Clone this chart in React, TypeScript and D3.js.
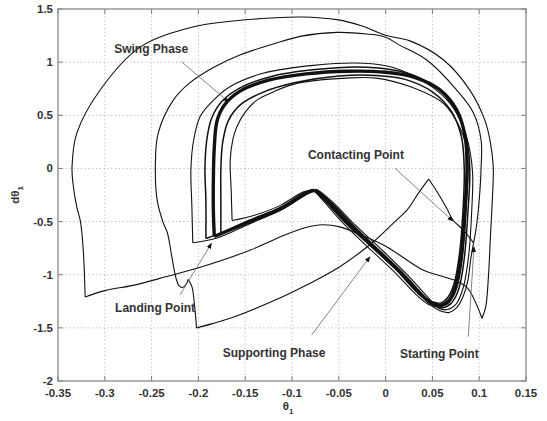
import React, { useRef, useEffect } from "react";
import * as d3 from "d3";

type Pt = [number, number];

// axis ticks
const xTicks = [-0.35, -0.3, -0.25, -0.2, -0.15, -0.1, -0.05, 0, 0.05, 0.1, 0.15];
const xTickLabels = ["-0.35", "-0.3", "-0.25", "-0.2", "-0.15", "-0.1", "-0.05", "0", "0.05", "0.1", "0.15"];
const yTicks = [-2, -1.5, -1, -0.5, 0, 0.5, 1, 1.5];
const yTickLabels = ["-2", "-1.5", "-1", "-0.5", "0", "0.5", "1", "1.5"];

// outermost trajectory (A)
const aSwing: Pt[] = [
  [0.103, -1.41], [0.107, -1.3], [0.110, -1.0], [0.112, -0.64], [0.114, -0.3], [0.115, 0.016],
  [0.1115, 0.267], [0.106, 0.455], [0.090, 0.737], [0.062, 1.02], [0.026, 1.2], [0.001, 1.25],
  [-0.025, 1.34], [-0.052, 1.4], [-0.09, 1.425], [-0.123, 1.415], [-0.16, 1.39], [-0.206, 1.33],
  [-0.262, 1.144], [-0.305, 0.738], [-0.33, 0.33], [-0.335, 0.016], [-0.334, -0.14],
  [-0.33, -0.36], [-0.326, -0.5], [-0.323, -0.77], [-0.321, -1.21],
];
const aSupport: Pt[] = [
  [-0.321, -1.21], [-0.3, -1.15], [-0.27, -1.1], [-0.235, -1.02], [-0.198, -0.93], [-0.145, -0.77],
  [-0.109, -0.63], [-0.085, -0.555], [-0.067, -0.53], [-0.049, -0.55], [-0.025, -0.63],
  [0.001, -0.736], [0.04, -0.956], [0.062, -1.02], [0.076, -1.06], [0.088, -1.13], [0.095, -1.24],
  [0.1, -1.34], [0.103, -1.41],
];

// second trajectory (B)
const bSwing: Pt[] = [
  [-0.211, -1.045], [-0.213, -1.09], [-0.217, -1.12], [-0.221, -1.1], [-0.224, -1.03],
  [-0.226, -0.95], [-0.229, -0.8], [-0.233, -0.61], [-0.238, -0.5], [-0.244, -0.3],
  [-0.246, 0.016], [-0.243, 0.33], [-0.227, 0.64], [-0.21, 0.8], [-0.184, 0.95], [-0.155, 1.07],
  [-0.12, 1.17], [-0.09, 1.245], [-0.052, 1.28], [-0.02, 1.265], [0.0, 1.235], [0.015, 1.16],
  [0.044, 1.02], [0.076, 0.737], [0.094, 0.52], [0.102, 0.267], [0.102, 0.0], [0.1, -0.3],
  [0.097, -0.55], [0.094, -0.7],
];
const bDrop: Pt[] = [[-0.211, -1.045], [-0.207, -1.11], [-0.204, -1.3], [-0.202, -1.5]];
const bSupport: Pt[] = [
  [-0.202, -1.5], [-0.185, -1.46], [-0.163, -1.4], [-0.113, -1.22], [-0.085, -1.1],
  [-0.049, -0.925], [-0.013, -0.69], [0.01, -0.5], [0.023, -0.39], [0.036, -0.22], [0.046, -0.1],
];
const bPeakDown: Pt[] = [
  [0.046, -0.1], [0.055, -0.22], [0.065, -0.37], [0.072, -0.485], [0.083, -0.58], [0.094, -0.7],
];
const bReturn: Pt[] = [
  [0.094, -0.7], [0.091, -0.85], [0.088, -1.05], [0.083, -1.2], [0.076, -1.31], [0.068, -1.355],
  [0.058, -1.34], [0.046, -1.27], [0.027, -1.07], [0.003, -0.86], [-0.027, -0.6], [-0.053, -0.37],
  [-0.069, -0.25], [-0.075, -0.22],
];

// limit cycle (thick band)
const lcSwing: Pt[] = [
  [-0.183, -0.64], [-0.184, -0.4], [-0.184, -0.1], [-0.183, 0.2], [-0.18, 0.45], [-0.172, 0.6],
  [-0.155, 0.73], [-0.125, 0.83], [-0.085, 0.89], [-0.04, 0.915], [0.0, 0.905], [0.03, 0.86],
  [0.058, 0.74], [0.076, 0.55], [0.085, 0.3], [0.087, 0.0], [0.085, -0.35], [0.081, -0.8],
  [0.075, -1.1], [0.068, -1.24], [0.06, -1.285], [0.05, -1.27], [0.038, -1.19], [0.015, -0.97],
  [-0.013, -0.74], [-0.04, -0.52], [-0.06, -0.33], [-0.072, -0.23], [-0.076, -0.205],
];
const lcDown: Pt[] = [[-0.076, -0.205], [-0.085, -0.235], [-0.11, -0.37], [-0.145, -0.5], [-0.183, -0.64]];

// neighbouring cycles
const c1Swing: Pt[] = [
  [-0.206, -0.7], [-0.207, -0.35], [-0.208, 0.0], [-0.205, 0.27], [-0.198, 0.49], [-0.184, 0.64],
  [-0.166, 0.77], [-0.131, 0.895], [-0.077, 0.97], [-0.024, 0.99], [0.008, 0.95], [0.044, 0.8],
  [0.069, 0.61], [0.083, 0.39], [0.09, 0.17], [0.093, -0.05], [0.092, -0.4], [0.089, -0.8],
  [0.083, -1.12], [0.075, -1.28], [0.065, -1.33], [0.056, -1.31], [0.046, -1.22], [0.022, -0.99],
  [-0.006, -0.75], [-0.034, -0.52], [-0.055, -0.33], [-0.068, -0.23], [-0.073, -0.2],
];
const c1Down: Pt[] = [[-0.073, -0.2], [-0.084, -0.24], [-0.11, -0.385], [-0.145, -0.52], [-0.18, -0.655], [-0.206, -0.7]];

const c2Swing: Pt[] = [
  [-0.192, -0.66], [-0.192, -0.3], [-0.193, 0.0], [-0.191, 0.27], [-0.186, 0.47], [-0.175, 0.63],
  [-0.155, 0.76], [-0.12, 0.87], [-0.075, 0.93], [-0.03, 0.955], [0.005, 0.93], [0.037, 0.85],
  [0.064, 0.68], [0.08, 0.45], [0.088, 0.2], [0.09, -0.05], [0.088, -0.4], [0.084, -0.85],
  [0.078, -1.14], [0.07, -1.27], [0.061, -1.31], [0.052, -1.29], [0.042, -1.21], [0.018, -0.98],
  [-0.01, -0.745], [-0.037, -0.52], [-0.057, -0.33], [-0.07, -0.225], [-0.074, -0.2],
];
const c2Down: Pt[] = [[-0.074, -0.2], [-0.085, -0.24], [-0.11, -0.375], [-0.145, -0.505], [-0.192, -0.66]];

const c3Swing: Pt[] = [
  [-0.176, -0.61], [-0.176, -0.3], [-0.176, 0.0], [-0.174, 0.25], [-0.168, 0.45], [-0.155, 0.6],
  [-0.13, 0.72], [-0.095, 0.81], [-0.05, 0.87], [-0.01, 0.875], [0.02, 0.84], [0.05, 0.72],
  [0.07, 0.54], [0.081, 0.3], [0.084, 0.0], [0.083, -0.35], [0.079, -0.8], [0.073, -1.09],
  [0.066, -1.22], [0.059, -1.265], [0.048, -1.25], [0.035, -1.175], [0.012, -0.96],
  [-0.016, -0.73], [-0.043, -0.51], [-0.063, -0.32], [-0.074, -0.22], [-0.078, -0.2],
];
const c3Down: Pt[] = [[-0.078, -0.2], [-0.088, -0.23], [-0.112, -0.365], [-0.145, -0.485], [-0.176, -0.61]];

const c4Swing: Pt[] = [
  [-0.164, -0.49], [-0.165, -0.2], [-0.166, 0.08], [-0.163, 0.28], [-0.159, 0.39], [-0.15, 0.53],
  [-0.138, 0.64], [-0.12, 0.72], [-0.095, 0.8], [-0.042, 0.85], [-0.01, 0.85], [0.026, 0.77],
  [0.062, 0.61], [0.079, 0.39], [0.087, 0.17], [0.088, -0.05], [0.086, -0.4], [0.082, -0.85],
  [0.076, -1.13], [0.068, -1.26], [0.058, -1.3], [0.046, -1.28], [0.033, -1.19], [0.009, -0.97],
  [-0.019, -0.74], [-0.046, -0.51], [-0.065, -0.32], [-0.076, -0.215], [-0.079, -0.2],
];
const c4Down: Pt[] = [[-0.079, -0.2], [-0.089, -0.225], [-0.113, -0.35], [-0.14, -0.44], [-0.164, -0.49]];

// annotations (data coordinates)
const noteTexts = ["Swing Phase", "Contacting Point", "Starting Point", "Landing Point", "Supporting Phase"];
const noteAt: Pt[] = [[-0.29, 1.086], [-0.083, 0.088], [0.0154, -1.784], [-0.289, -1.351], [-0.174, -1.774]];
const arrowFrom: Pt[] = [[-0.218, 1.004], [0.01, 0.001], [0.0884, -1.583], [-0.2197, -1.191], [-0.079, -1.567]];
const arrowTo: Pt[] = [[-0.168, 0.627], [0.072, -0.495], [0.0944, -0.737], [-0.186, -0.705], [-0.0167, -0.831]];

const W = 547;
const H = 421;
const margin = { left: 58, right: 21, top: 9, bottom: 40 };

export default function App() {
  const ref = useRef<SVGSVGElement>(null);

  useEffect(() => {
    const svg = d3.select(ref.current);
    svg.selectAll("*").remove();

    const x = d3.scaleLinear().domain([-0.35, 0.15]).range([margin.left, W - margin.right]);
    const y = d3.scaleLinear().domain([-2, 1.5]).range([H - margin.bottom, margin.top]);
    const x0 = margin.left, x1 = W - margin.right, y0 = margin.top, y1 = H - margin.bottom;

    svg.append("rect").attr("width", W).attr("height", H).attr("fill", "#fff");

    const defs = svg.append("defs");
    defs.append("marker")
      .attr("id", "head")
      .attr("viewBox", "0 0 10 10")
      .attr("refX", 9).attr("refY", 5)
      .attr("markerWidth", 6).attr("markerHeight", 6)
      .attr("markerUnits", "userSpaceOnUse")
      .attr("orient", "auto")
      .append("path").attr("d", "M0,1 L10,5 L0,9 Z").attr("fill", "#111");

    // grid
    const grid = svg.append("g").attr("stroke", "#a5a5a5").attr("stroke-width", 0.8).attr("stroke-dasharray", "1.2,2.6");
    xTicks.slice(1, -1).forEach((t) => {
      grid.append("line").attr("x1", x(t)).attr("x2", x(t)).attr("y1", y0).attr("y2", y1);
    });
    yTicks.slice(1, -1).forEach((t) => {
      grid.append("line").attr("x1", x0).attr("x2", x1).attr("y1", y(t)).attr("y2", y(t));
    });

    // curves
    const line = d3.line<Pt>().x((d) => x(d[0])).y((d) => y(d[1])).curve(d3.curveCatmullRom.alpha(0.5));
    const curves: { pts: Pt[]; w: number }[] = [
      { pts: aSwing, w: 1.1 }, { pts: aSupport, w: 1.1 },
      { pts: bSwing, w: 1.1 }, { pts: bDrop, w: 1.1 }, { pts: bSupport, w: 1.1 },
      { pts: bPeakDown, w: 1.1 }, { pts: bReturn, w: 1.1 },
      { pts: c1Swing, w: 1.1 }, { pts: c1Down, w: 1.1 },
      { pts: c2Swing, w: 1.5 }, { pts: c2Down, w: 1.5 },
      { pts: c3Swing, w: 1.5 }, { pts: c3Down, w: 1.5 },
      { pts: c4Swing, w: 1.1 }, { pts: c4Down, w: 1.1 },
      { pts: lcSwing, w: 3.4 }, { pts: lcDown, w: 3.4 },
    ];
    svg.append("g")
      .selectAll("path")
      .data(curves)
      .enter()
      .append("path")
      .attr("d", (d) => line(d.pts))
      .attr("fill", "none")
      .attr("stroke", "#111")
      .attr("stroke-width", (d) => d.w)
      .attr("stroke-linejoin", "round");

    // annotation arrows
    svg.append("g")
      .selectAll("line")
      .data(noteTexts.map((_, i) => i))
      .enter()
      .append("line")
      .attr("x1", (i) => x(arrowFrom[i][0]))
      .attr("y1", (i) => y(arrowFrom[i][1]))
      .attr("x2", (i) => x(arrowTo[i][0]))
      .attr("y2", (i) => y(arrowTo[i][1]))
      .attr("stroke", "#777")
      .attr("stroke-width", 0.9)
      .attr("marker-end", "url(#head)");

    const font = "Liberation Sans, Arial, sans-serif";
    svg.append("g")
      .selectAll("text")
      .data(noteTexts)
      .enter()
      .append("text")
      .text((d) => d)
      .attr("x", (d, i) => x(noteAt[i][0]))
      .attr("y", (d, i) => y(noteAt[i][1]))
      .attr("font-family", font)
      .attr("font-weight", "bold")
      .attr("font-size", 12)
      .attr("fill", "#333");

    // frame and ticks
    svg.append("rect")
      .attr("x", x0).attr("y", y0).attr("width", x1 - x0).attr("height", y1 - y0)
      .attr("fill", "none").attr("stroke", "#808080").attr("stroke-width", 1.2);
    const ticks = svg.append("g").attr("stroke", "#808080").attr("stroke-width", 1);
    xTicks.forEach((t) => {
      ticks.append("line").attr("x1", x(t)).attr("x2", x(t)).attr("y1", y1).attr("y2", y1 - 5);
      ticks.append("line").attr("x1", x(t)).attr("x2", x(t)).attr("y1", y0).attr("y2", y0 + 5);
    });
    yTicks.forEach((t) => {
      ticks.append("line").attr("x1", x0).attr("x2", x0 + 5).attr("y1", y(t)).attr("y2", y(t));
      ticks.append("line").attr("x1", x1).attr("x2", x1 - 5).attr("y1", y(t)).attr("y2", y(t));
    });

    svg.append("g")
      .selectAll("text")
      .data(xTicks)
      .enter()
      .append("text")
      .text((d, i) => xTickLabels[i])
      .attr("x", (d) => x(d))
      .attr("y", y1 + 15.5)
      .attr("text-anchor", "middle")
      .attr("font-family", font)
      .attr("font-weight", "bold")
      .attr("font-size", 11.5)
      .attr("fill", "#333");
    svg.append("g")
      .selectAll("text")
      .data(yTicks)
      .enter()
      .append("text")
      .text((d, i) => yTickLabels[i])
      .attr("x", x0 - 5)
      .attr("y", (d) => y(d) + 4)
      .attr("text-anchor", "end")
      .attr("font-family", font)
      .attr("font-weight", "bold")
      .attr("font-size", 11.5)
      .attr("fill", "#333");

    // axis labels
    const xl = svg.append("text")
      .attr("x", (x0 + x1) / 2 - 4)
      .attr("y", 410)
      .attr("text-anchor", "middle")
      .attr("font-family", font)
      .attr("font-weight", "bold")
      .attr("font-size", 11.5)
      .attr("fill", "#333");
    xl.append("tspan").text("θ");
    xl.append("tspan").text("1").attr("font-size", 8).attr("dy", 4);

    const yl = svg.append("text")
      .attr("transform", `translate(18.5,${(y0 + y1) / 2}) rotate(-90)`)
      .attr("text-anchor", "middle")
      .attr("font-family", font)
      .attr("font-weight", "bold")
      .attr("font-size", 11.5)
      .attr("fill", "#333");
    yl.append("tspan").text("dθ");
    yl.append("tspan").text("1").attr("font-size", 8).attr("dy", 4);
  }, []);

  return (
    <svg
      ref={ref}
      width={W}
      height={H}
      style={{ position: "absolute", left: 0, top: 0, display: "block" }}
    />
  );
}
